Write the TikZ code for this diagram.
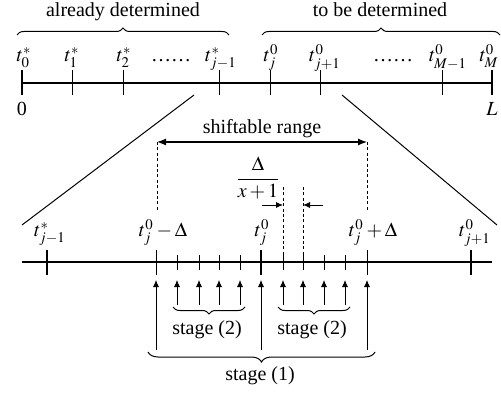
\documentclass[tikz,border=0pt]{standalone}
\usepackage{mathptmx}
\usepackage[no-math]{fontspec}
\setmainfont{Liberation Serif}
\usetikzlibrary{arrows.meta,decorations.pathreplacing}

\begin{document}
\begin{tikzpicture}[x=0.5pt, y=-0.5pt,
  axis/.style={line width=0.8pt},
  bigtick/.style={line width=1pt},
  thintick/.style={line width=0.5pt},
  guide/.style={dash pattern=on 1.5pt off 1.2pt, line width=0.5pt},
  brace/.style={decorate, decoration={brace, amplitude=3.5pt}, line width=0.5pt},
  up/.style={-{Latex[length=3.5pt,width=3pt]}, line width=0.4pt},
  lbl/.style={anchor=base, inner sep=0pt}]
  \useasboundingbox (0,0) rectangle (501,394);

  % Upper time axis
  \coordinate (T0) at (22,83);
  \coordinate (TM) at (492,83);
  \draw[axis] (T0) -- (TM);
  \draw[bigtick] (22,70) -- (22,95);
  \draw[bigtick] (492,70) -- (492,95);
  \foreach \x in {72,123,219,270,320,442}
    \draw[thintick] (\x,70) -- (\x,95);

  % Upper labels
  \node[lbl] (t0) at (24,62) {$t_0^*$};
  \node[lbl] (t1) at (72,62) {$t_1^*$};
  \node[lbl] (t2) at (124,62) {$t_2^*$};
  \node[lbl] (dotsA) at (171,62) {\ldots\ldots};
  \node[lbl] (tjm) at (221,62) {$t_{j-1}^*$};
  \node[lbl] (tj) at (271,62) {$t_j^0$};
  \node[lbl] (tjp) at (325,62) {$t_{j+1}^0$};
  \node[lbl] (dotsB) at (393,62) {\ldots\ldots};
  \node[lbl] (tMm) at (448,62) {$t_{M-1}^0$};
  \node[lbl] (tM) at (489,62) {$t_M^0$};
  \node[lbl] (zero) at (22,116) {0};
  \node[lbl] (ell) at (492,116) {$L$};

  % Upper braces
  \draw[brace] (17,35) -- (229,35);
  \node[lbl] (done) at (123,17) {already determined};
  \draw[brace] (262,35) -- (500,35);
  \node[lbl] (todo) at (380,17) {to be determined};

  % Zoom lines
  \coordinate (ZL1) at (194,95);
  \coordinate (ZL2) at (22,225);
  \coordinate (ZR1) at (342,95);
  \coordinate (ZR2) at (497,225);
  \draw[line width=0.5pt] (ZL1) -- (ZL2);
  \draw[line width=0.5pt] (ZR1) -- (ZR2);

  % Shiftable range
  \coordinate (SL) at (157,142);
  \coordinate (SR) at (367,142);
  \draw[guide] (SL) -- (157,210);
  \draw[guide] (SR) -- (367,210);
  \draw[{Latex[length=4.5pt,width=3.5pt]}-{Latex[length=4.5pt,width=3.5pt]}, line width=0.6pt] (SL) -- (SR);
  \node[lbl] (shift) at (262,134) {shiftable range};

  % Step width
  \node[inner sep=0pt] (width) at (258,178) {$\displaystyle\frac{\Delta}{x+1}$};
  \draw[guide] (283,187) -- (283,262);
  \draw[guide] (303,187) -- (303,262);
  \coordinate (WL) at (262,205);
  \coordinate (WR) at (323,205);
  \draw[up] (WL) -- (283,205);
  \draw[up] (WR) -- (303,205);

  % Lower time axis
  \coordinate (B0) at (22,262);
  \coordinate (BM) at (492,262);
  \draw[axis] (B0) -- (BM);
  \foreach \x in {47,261,471}
    \draw[bigtick] (\x,250) -- (\x,275);
  \foreach \x in {156,367}
    \draw[thintick] (\x,250) -- (\x,275);
  \foreach \x in {177,199,219,240,283,303,324,345}
    \draw[thintick] (\x,255) -- (\x,270);

  % Lower labels
  \node[lbl] (bjm) at (50,237) {$t_{j-1}^*$};
  \node[lbl] (bminus) at (163,237) {$t_j^0-\Delta$};
  \node[lbl] (bj) at (262,237) {$t_j^0$};
  \node[lbl] (bplus) at (373,237) {$t_j^0+\Delta$};
  \node[lbl] (bjp) at (475,237) {$t_{j+1}^0$};

  % Stage (1) arrows
  \foreach \x in {156,261,367}
    \draw[up] (\x,350) -- (\x,280);

  % Stage (2) arrows
  \foreach \x in {177,199,219,240,283,303,324,345}
    \draw[up] (\x,305) -- (\x,280);

  % Stage braces
  \draw[brace] (245,307) -- (173,307);
  \node[lbl] (stA) at (207,334) {stage (2)};
  \draw[brace] (350,307) -- (278,307);
  \node[lbl] (stB) at (312,334) {stage (2)};
  \draw[brace, decoration={amplitude=5pt}] (375,352) -- (148,352);
  \node[lbl] (stC) at (260,380) {stage (1)};
\end{tikzpicture}
\end{document}
